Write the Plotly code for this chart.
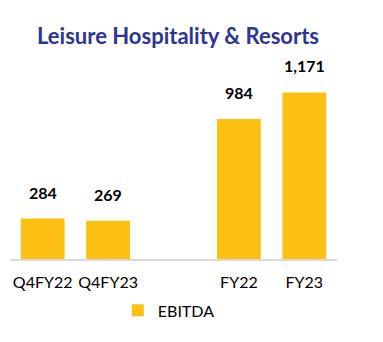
import plotly.graph_objects as go

categories = ["Q4FY22", "Q4FY23", " ", "FY22", "FY23"]
ebitda = [284, 269, None, 984, 1171]
series_name = "EBITDA"
title_text = "Leisure Hospitality & Resorts"

bar_color = "#FCC012"
font_family = "Lato, 'Open Sans', sans-serif"

fig = go.Figure()
fig.add_trace(go.Bar(
    x=categories, y=ebitda, name=series_name,
    marker=dict(color=bar_color, line=dict(width=0)),
    width=0.67, showlegend=True,
))

for c, v in zip(categories, ebitda):
    if v is None:
        continue
    fig.add_annotation(
        x=c, y=v, text=f"<b>{v:,}</b>", showarrow=False,
        yanchor="bottom", yshift=15,
        font=dict(family=font_family, size=16, color="#000000"),
    )

fig.update_layout(
    width=383, height=342,
    margin=dict(l=10, r=46, t=67, b=83),
    paper_bgcolor="white", plot_bgcolor="white",
    font=dict(family=font_family, color="#000000"),
    title=dict(
        text=f"<b>{title_text}</b>", x=178/383, xanchor="center",
        y=1 - 36.5/342, yanchor="middle",
        font=dict(family=font_family, size=22, color="#2E3592"),
    ),
    showlegend=True,
    legend=dict(
        orientation="h", x=186/383, xanchor="center", xref="paper",
        y=-(311-259.5)/192.5, yanchor="middle",
        font=dict(family=font_family, size=16, color="#000000"),
        itemwidth=30,
    ),
    bargap=0.33,
)
fig.update_xaxes(
    type="category", categoryorder="array", categoryarray=categories,
    showline=True, linecolor="#D9D9D9", linewidth=2,
    showgrid=False, ticks="", tickfont=dict(family=font_family, size=16, color="#000000"),
    ticklabelstandoff=8,
)
fig.update_yaxes(range=[0, 1350], visible=False, showgrid=False, zeroline=False)

fig.write_html("out.html")
